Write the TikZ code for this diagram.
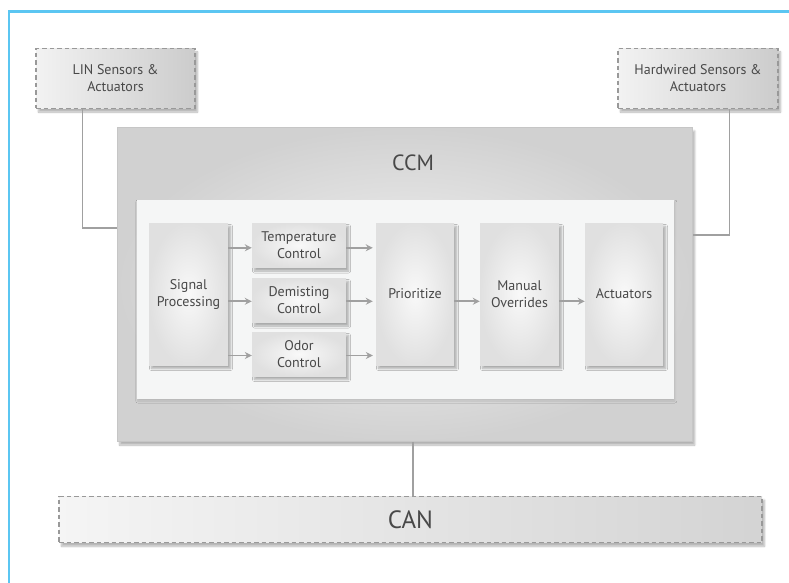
\documentclass[tikz,border=0pt]{standalone}
\usepackage{fontspec}
\setmainfont{PT Sans}
\usetikzlibrary{arrows.meta}
\usetikzlibrary{shadows.blur}
\definecolor{framecol}{HTML}{5BC6F2}
\definecolor{txtcol}{HTML}{484848}
\definecolor{wirecol}{HTML}{A0A0A0}
\definecolor{panelcol}{HTML}{F5F6F6}

\begin{document}
\begin{tikzpicture}[x=1pt,y=-1pt,
	block/.style={rectangle, inner sep=2pt, align=center, text=txtcol,
		font=\fontsize{14}{17}\selectfont, inner color=gray!5, outer color=gray!24,
		blur shadow={shadow xshift=2.5pt, shadow yshift=-3.5pt, shadow blur steps=8, shadow opacity=30}},
	ext/.style={block, draw=gray!80, dash pattern=on 4.5pt off 3pt, line width=1.1pt,
		left color=gray!10, right color=gray!40},
	wire/.style={draw=wirecol, line width=1.8pt},
	flow/.style={draw=wirecol, line width=1.8pt, -{Stealth[length=7pt,width=7pt]}}]

	\useasboundingbox (0,0) rectangle (789,583);

	%Frame
	\draw[framecol, line width=2.5pt] (9,583) -- (9,11.5) -- (789,11.5);

	%Outside
	\node[ext, minimum width=159pt, minimum height=60pt] (lin) at (115.5,78.5) {LIN Sensors \&\\Actuators};
	\node[ext, minimum width=160pt, minimum height=60pt] (hw) at (698,78.5) {Hardwired Sensors \&\\Actuators};
	\node[ext, minimum width=703pt, minimum height=46pt, font=\fontsize{25}{29}\selectfont,
		left color=gray!8, right color=gray!34] (can) at (410.5,519.7) {CAN};

	%CCM
	\node[block, draw=gray!45, line width=0.8pt, minimum width=575pt, minimum height=314pt,
		inner color=gray!10, outer color=gray!36] (ccm) at (404.7,284.5) {};
	\node[text=txtcol, font=\fontsize{22}{26}\selectfont] (ccmlabel) at (413,163) {CCM};
	\node[rectangle, fill=panelcol, minimum width=537pt, minimum height=199pt,
		blur shadow={shadow xshift=1pt, shadow yshift=-2pt, shadow blur steps=4, shadow opacity=12}] (panel) at (405.3,299.5) {};

	%Blocks
	\node[block, minimum width=79pt, minimum height=142pt] (sp) at (188.5,294) {Signal\\Processing};
	\node[block, minimum width=94pt, minimum height=44.5pt] (temp) at (299,245.3) {Temperature\\Control};
	\node[block, minimum width=94pt, minimum height=44.5pt] (demist) at (299,300.3) {Demisting\\Control};
	\node[block, minimum width=94pt, minimum height=44pt] (odor) at (299,354) {Odor\\Control};
	\node[block, minimum width=78pt, minimum height=142pt] (prio) at (415,294) {Prioritize};
	\node[block, minimum width=79pt, minimum height=142pt] (manual) at (519.5,294) {Manual\\Overrides};
	\node[block, minimum width=78pt, minimum height=142pt] (act) at (624,294) {Actuators};

	%Arrows
	\draw[flow] ([yshift=-2.5pt]sp.east |- temp) -- ([yshift=-2.5pt]temp.west);
	\draw[flow] ([yshift=-1pt]sp.east |- demist) -- ([yshift=-1pt]demist.west);
	\draw[flow] ([yshift=-1.5pt]sp.east |- odor) -- ([yshift=-1.5pt]odor.west);
	\draw[flow] ([yshift=-2.5pt]temp.east) -- ([xshift=-3pt,yshift=-2.5pt]prio.west |- temp);
	\draw[flow] ([yshift=-1pt]demist.east) -- ([xshift=-3pt,yshift=-1pt]prio.west |- demist);
	\draw[flow] ([yshift=-1.5pt]odor.east) -- ([xshift=-3pt,yshift=-1.5pt]prio.west |- odor);
	\draw[flow] ([yshift=-1pt]prio.east |- demist) -- ([yshift=-1pt]manual.west |- demist);
	\draw[flow] ([yshift=-1pt]manual.east |- demist) -- ([yshift=-1pt]act.west |- demist);

	%Wires
	\draw[wire] ([xshift=47pt]lin.south west) |- ([yshift=-101pt]ccm.north west);
	\draw[wire] ([xshift=-49pt]hw.south east) |- ([yshift=-108pt]ccm.north east);
	\draw[wire] ([xshift=8.5pt]ccm.south) -- ([xshift=8.5pt]ccm.south |- can.north);

\end{tikzpicture}
\end{document}
